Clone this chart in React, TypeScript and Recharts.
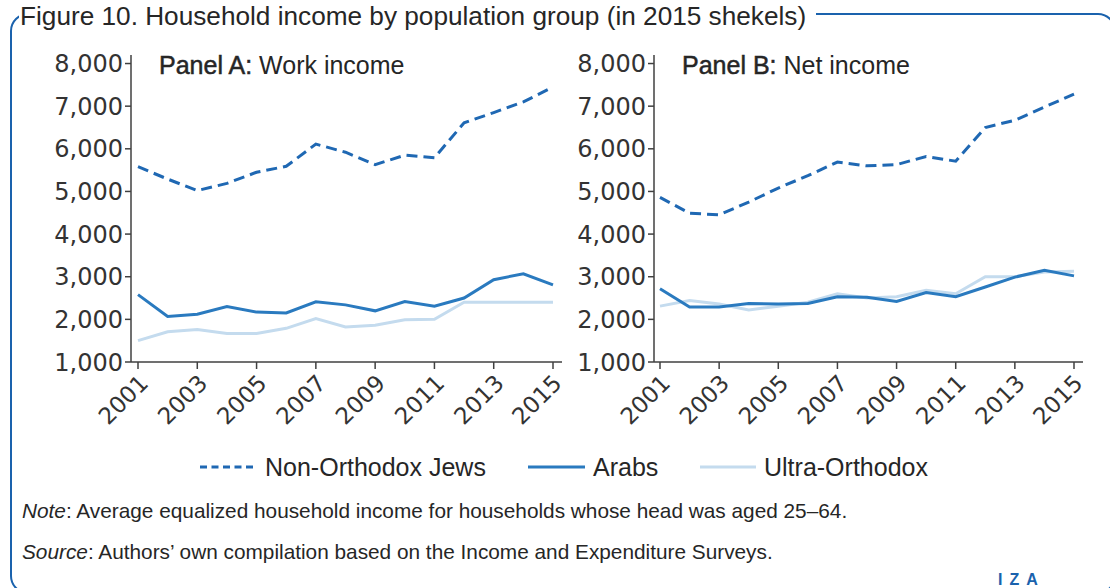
import { CartesianGrid, Line, LineChart, XAxis, YAxis } from "recharts";

const YEARS = [2001, 2002, 2003, 2004, 2005, 2006, 2007, 2008, 2009, 2010, 2011, 2012, 2013, 2014, 2015];
const X_TICKS = [2001, 2003, 2005, 2007, 2009, 2011, 2013, 2015];
const Y_TICKS = [1000, 2000, 3000, 4000, 5000, 6000, 7000, 8000];

// Panel A: work income
const nonOrthodoxWork = [5580, 5290, 5020, 5190, 5450, 5590, 6110, 5920, 5630, 5850, 5790, 6610, 6850, 7100, 7450];
const arabsWork = [2580, 2070, 2120, 2300, 2170, 2150, 2410, 2340, 2200, 2420, 2310, 2500, 2930, 3070, 2810];
const ultraWork = [1500, 1710, 1760, 1670, 1670, 1790, 2020, 1820, 1860, 1990, 2000, 2400, 2400, 2400, 2400];

// Panel B: net income
const nonOrthodoxNet = [4860, 4490, 4450, 4750, 5080, 5370, 5690, 5600, 5630, 5820, 5710, 6500, 6670, 6980, 7280];
const arabsNet = [2720, 2290, 2290, 2370, 2360, 2370, 2530, 2520, 2420, 2630, 2530, 2760, 2990, 3150, 3020];
const ultraNet = [2310, 2440, 2360, 2220, 2310, 2400, 2600, 2500, 2530, 2680, 2600, 3000, 3000, 3110, 3130];

const DARK = "#1f68b3";
const MID = "#2a7abf";
const LIGHT = "#c4dbee";
const FRAME = "#1a62ad";
const AXIS = "#404040";
const TEXT = "#262626";
const SANS = "'Liberation Sans', Arial, sans-serif";
const TICK_FONT = "'DejaVu Sans', Verdana, sans-serif";

function build(a: number[], b: number[], c: number[]) {
  return YEARS.map((year, i) => ({ year, non: a[i], arabs: b[i], ultra: c[i] }));
}

const workData = build(nonOrthodoxWork, arabsWork, ultraWork);
const netData = build(nonOrthodoxNet, arabsNet, ultraNet);

function Panel({
  data,
  left,
  width,
  padLeft,
}: {
  data: ReturnType<typeof build>;
  left: number;
  width: number;
  padLeft: number;
}) {
  return (
    <div style={{ position: "absolute", left, top: 0 }}>
      <LineChart width={width} height={440} data={data} margin={{ top: 55, right: 8, bottom: 18, left: 0 }}>
        <CartesianGrid stroke="none" />
        <XAxis
          dataKey="year"
          type="number"
          domain={[2001, 2015]}
          ticks={X_TICKS}
          padding={{ left: padLeft, right: 9 }}
          height={60}
          angle={-45}
          textAnchor="end"
          tickSize={7}
          tickMargin={4}
          axisLine={{ stroke: AXIS, strokeWidth: 1.5 }}
          tickLine={{ stroke: AXIS, strokeWidth: 1.5 }}
          tick={{ fill: "#333", fontSize: 23, fontFamily: TICK_FONT }}
        />
        <YAxis
          type="number"
          domain={[1000, 8200]}
          ticks={Y_TICKS}
          width={131}
          tickSize={6}
          axisLine={{ stroke: AXIS, strokeWidth: 1.5 }}
          tickLine={{ stroke: AXIS, strokeWidth: 1.5 }}
          tick={{ fill: "#333", fontSize: 24, fontFamily: TICK_FONT }}
          tickFormatter={(v: number) => v.toLocaleString("en-US")}
        />
        <Line dataKey="ultra" stroke={LIGHT} strokeWidth={3} dot={false} isAnimationActive={false} />
        <Line dataKey="arabs" stroke={MID} strokeWidth={3} dot={false} isAnimationActive={false} />
        <Line
          dataKey="non"
          stroke={DARK}
          strokeWidth={3}
          strokeDasharray="11 6"
          dot={false}
          isAnimationActive={false}
        />
      </LineChart>
    </div>
  );
}

function PanelTitle({ left, label, text }: { left: number; label: string; text: string }) {
  return (
    <div
      style={{
        position: "absolute",
        left,
        top: 53,
        fontFamily: SANS,
        fontSize: 25,
        lineHeight: "25px",
        color: TEXT,
        whiteSpace: "nowrap",
      }}
    >
      <span style={{ WebkitTextStroke: "0.5px " + TEXT }}>{label}</span> {text}
    </div>
  );
}

function LegendItem({ left, width, color, dash, label }: { left: number; width: number; color: string; dash?: string; label: string }) {
  return (
    <div style={{ position: "absolute", left, top: 452, display: "flex", alignItems: "center", whiteSpace: "nowrap" }}>
      <svg width={width} height={30} style={{ display: "block" }}>
        <line x1={0} y1={15} x2={width} y2={15} stroke={color} strokeWidth={3} strokeDasharray={dash} />
      </svg>
      <span style={{ marginLeft: 8, fontFamily: SANS, fontSize: 25, lineHeight: "30px", color: TEXT }}>{label}</span>
    </div>
  );
}

export default function App() {
  return (
    <div style={{ position: "absolute", left: 0, top: 0, width: 1110, height: 588, overflow: "hidden", background: "#fff" }}>
      <div
        style={{
          position: "absolute",
          left: 10,
          top: 12.5,
          width: 1106,
          height: 581,
          border: `2.5px solid ${FRAME}`,
          borderRadius: 18,
          boxSizing: "border-box",
        }}
      />
      <div
        style={{
          position: "absolute",
          left: 19,
          top: 3,
          paddingLeft: 1,
          paddingRight: 10,
          background: "#fff",
          fontFamily: SANS,
          fontSize: 26.2,
          lineHeight: "26px",
          color: TEXT,
          whiteSpace: "nowrap",
        }}
      >
        Figure 10. Household income by population group (in 2015 shekels)
      </div>

      <Panel data={workData} left={0} width={570} padLeft={7} />
      <Panel data={netData} left={523} width={568} padLeft={6} />
      <PanelTitle left={159} label="Panel A:" text="Work income" />
      <PanelTitle left={682} label="Panel B:" text="Net income" />

      <LegendItem left={200} width={57} color={DARK} dash="7 4.5" label="Non-Orthodox Jews" />
      <LegendItem left={528} width={57} color={MID} label="Arabs" />
      <LegendItem left={700} width={56} color={LIGHT} label="Ultra-Orthodox" />

      <div style={{ position: "absolute", left: 22, top: 499, fontFamily: SANS, fontSize: 20.8, lineHeight: "24px", color: TEXT, whiteSpace: "nowrap" }}>
        <i>Note</i>: Average equalized household income for households whose head was aged 25–64.
      </div>
      <div style={{ position: "absolute", left: 22, top: 540, fontFamily: SANS, fontSize: 20.8, lineHeight: "24px", color: TEXT, whiteSpace: "nowrap" }}>
        <i>Source</i>: Authors’ own compilation based on the Income and Expenditure Surveys.
      </div>
      <div
        style={{
          position: "absolute",
          left: 998,
          top: 571,
          fontFamily: SANS,
          fontSize: 16,
          fontWeight: 700,
          letterSpacing: 7,
          color: FRAME,
          whiteSpace: "nowrap",
        }}
      >
        IZA
      </div>
    </div>
  );
}
